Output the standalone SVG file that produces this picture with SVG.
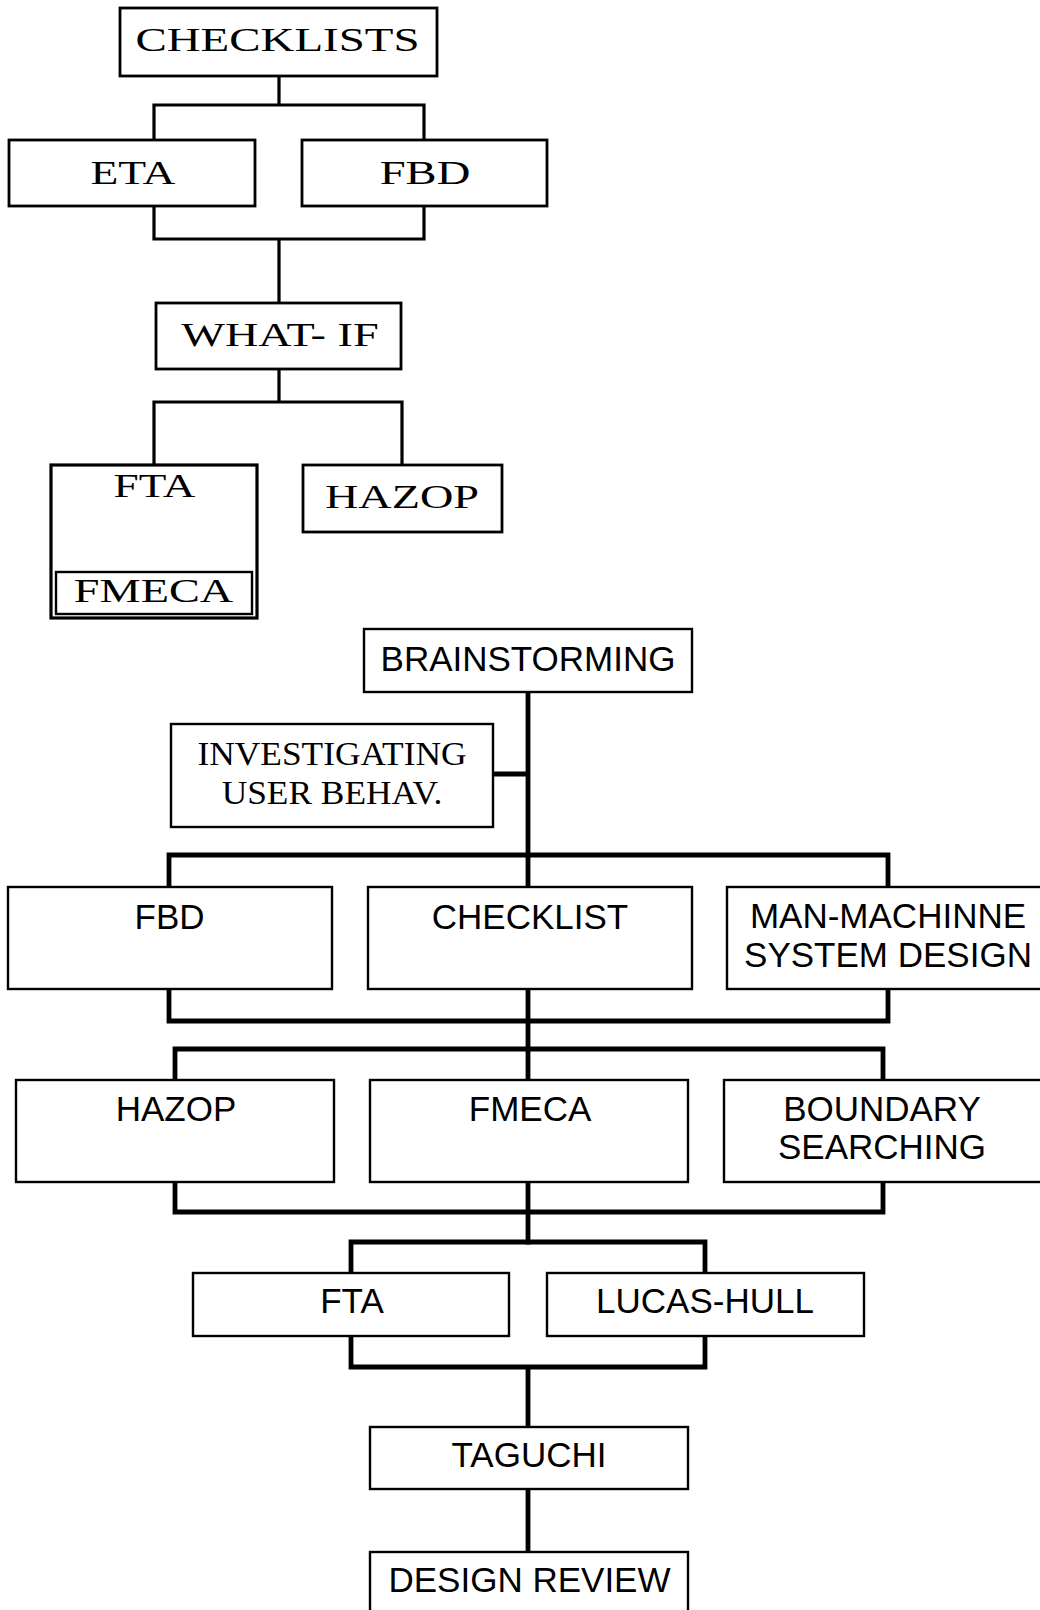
<svg xmlns="http://www.w3.org/2000/svg" width="1040" height="1610" viewBox="0 0 1040 1610">
<style>
  .bg{fill:#fff}
  .box{fill:#fff;stroke:#000;stroke-width:2.8}
  .box2{fill:#fff;stroke:#000;stroke-width:2.4}
  .tc{fill:none;stroke:#000;stroke-width:3.2;stroke-linejoin:miter;stroke-linecap:square}
  .bc{fill:none;stroke:#000;stroke-width:4.8;stroke-linejoin:miter;stroke-linecap:square}
  .serif{font-family:"Liberation Serif","Times New Roman",serif;font-size:34px;fill:#000;text-anchor:middle}
  .serif2{font-family:"Liberation Serif","Times New Roman",serif;font-size:34px;fill:#000;text-anchor:middle}
  .sans{font-family:"Liberation Sans",Arial,sans-serif;font-size:35px;fill:#000;text-anchor:middle}
</style>
<rect class="bg" x="0" y="0" width="1040" height="1610"/>

<g id="connectors">
  <path class="tc" d="M279,76 V105 M154,105 H424 M154,105 V140 M424,105 V140"/>
  <path class="tc" d="M154,206 V239 M424,206 V239 M154,239 H424 M279,239 V303"/>
  <path class="tc" d="M279,369 V402 M154,402 H402 M154,402 V465 M402,402 V465"/>
  <path class="tc" d="M154,509 V572"/>
  <path class="bc" d="M528,692 V855 M493,774 H528"/>
  <path class="bc" d="M169,855 H888 M169,855 V887 M528,855 V887 M888,855 V887"/>
  <path class="bc" d="M169,989 V1021 M528,989 V1021 M888,989 V1021 M169,1021 H888 M528,1021 V1049"/>
  <path class="bc" d="M175,1049 H883 M175,1049 V1080 M528,1049 V1080 M883,1049 V1080"/>
  <path class="bc" d="M175,1182 V1212 M528,1182 V1212 M883,1182 V1212 M175,1212 H883 M528,1212 V1242"/>
  <path class="bc" d="M351,1242 H705 M351,1242 V1273 M705,1242 V1273"/>
  <path class="bc" d="M351,1336 V1367 M705,1336 V1367 M351,1367 H705 M528,1367 V1427"/>
  <path class="bc" d="M528,1489 V1552"/>
</g>

<g id="n-checklists">
  <rect class="box" x="120" y="8" width="317" height="68"/>
  <text class="serif" transform="translate(277.5,51) scale(1.38,1)">CHECKLISTS</text>
</g>
<g id="n-eta">
  <rect class="box" x="9" y="140" width="246" height="66"/>
  <text class="serif" transform="translate(133,184) scale(1.34,1)">ETA</text>
</g>
<g id="n-fbd-top">
  <rect class="box" x="302" y="140" width="245" height="66"/>
  <text class="serif" transform="translate(425,184) scale(1.37,1)">FBD</text>
</g>
<g id="n-whatif">
  <rect class="box" x="156" y="303" width="245" height="66"/>
  <text class="serif" transform="translate(280,346) scale(1.36,1)">WHAT- IF</text>
</g>
<g id="n-fta-top">
  <rect class="box" x="51" y="465" width="206" height="153" style="stroke-width:3.2"/>
  <text class="serif" transform="translate(154.5,497) scale(1.33,1)">FTA</text>
</g>
<g id="n-fmeca-top">
  <rect class="box2" x="56" y="572" width="196" height="42"/>
  <text class="serif" transform="translate(153.5,602) scale(1.36,1)">FMECA</text>
</g>
<g id="n-hazop-top">
  <rect class="box" x="303" y="465" width="199" height="67"/>
  <text class="serif" transform="translate(402,508) scale(1.36,1)">HAZOP</text>
</g>

<g id="n-brainstorming">
  <rect class="box2" x="364" y="629" width="328" height="63"/>
  <text class="sans" x="528" y="671">BRAINSTORMING</text>
</g>
<g id="n-investigating">
  <rect class="box2" x="171" y="724" width="322" height="103"/>
  <text class="serif2" transform="translate(332,765) scale(1.04,1)">INVESTIGATING</text>
  <text class="serif2" transform="translate(332,804) scale(1.04,1)">USER BEHAV.</text>
</g>

<g id="n-fbd">
  <rect class="box2" x="8" y="887" width="324" height="102"/>
  <text class="sans" x="169.5" y="929">FBD</text>
</g>
<g id="n-checklist">
  <rect class="box2" x="368" y="887" width="324" height="102"/>
  <text class="sans" x="530" y="929">CHECKLIST</text>
</g>
<g id="n-manmachine">
  <rect class="box2" x="727" y="887" width="320" height="102"/>
  <text class="sans" x="888" y="928">MAN-MACHINNE</text>
  <text class="sans" x="888" y="967">SYSTEM DESIGN</text>
</g>

<g id="n-hazop">
  <rect class="box2" x="16" y="1080" width="318" height="102"/>
  <text class="sans" x="176" y="1121">HAZOP</text>
</g>
<g id="n-fmeca">
  <rect class="box2" x="370" y="1080" width="318" height="102"/>
  <text class="sans" x="530" y="1121">FMECA</text>
</g>
<g id="n-boundary">
  <rect class="box2" x="724" y="1080" width="323" height="102"/>
  <text class="sans" x="882" y="1121">BOUNDARY</text>
  <text class="sans" x="882" y="1159">SEARCHING</text>
</g>

<g id="n-fta">
  <rect class="box2" x="193" y="1273" width="316" height="63"/>
  <text class="sans" x="352" y="1313">FTA</text>
</g>
<g id="n-lucashull">
  <rect class="box2" x="547" y="1273" width="317" height="63"/>
  <text class="sans" x="705" y="1313">LUCAS-HULL</text>
</g>
<g id="n-taguchi">
  <rect class="box2" x="370" y="1427" width="318" height="62"/>
  <text class="sans" x="529" y="1467">TAGUCHI</text>
</g>
<g id="n-designreview">
  <rect class="box2" x="370" y="1552" width="318" height="66"/>
  <text class="sans" x="529.5" y="1592">DESIGN REVIEW</text>
</g>
</svg>
